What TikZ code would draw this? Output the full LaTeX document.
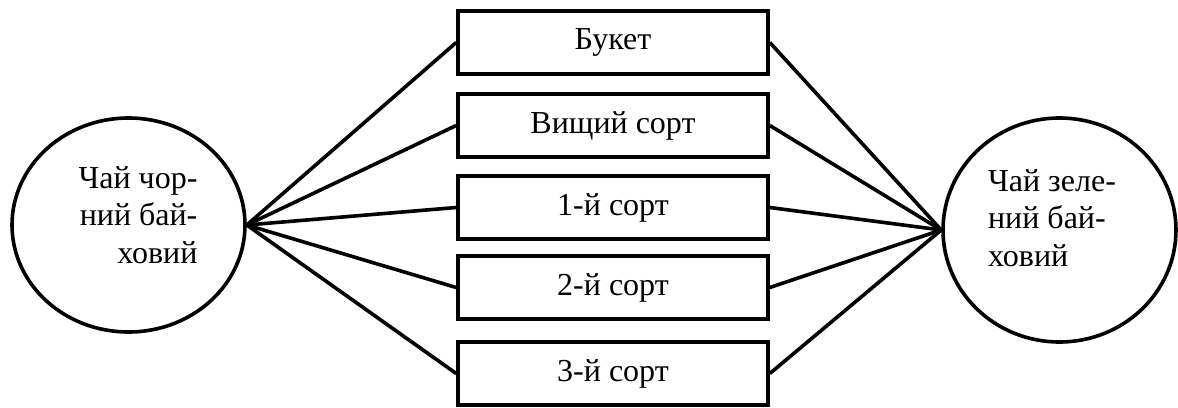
\documentclass[tikz,border=0pt]{standalone}
\usepackage{fontspec}
\setmainfont{Liberation Serif}
\usetikzlibrary{shapes.geometric}
\tikzset{
  lw/.style={line width=3.6pt},
  oval/.style={ellipse, draw, lw, inner sep=0pt},
  sortbox/.style={rectangle, draw, lw, minimum width=310pt, minimum height=63pt, inner sep=0pt,
    font=\fontsize{32}{37.5}\selectfont},
  ovaltext/.style={inner sep=0pt, font=\fontsize{32}{37.5}\selectfont},
  link/.style={lw}
}
\begin{document}
\begin{tikzpicture}[x=1pt,y=-1pt]
\useasboundingbox (0,0) rectangle (1178,407);
\node[oval, minimum width=233pt, minimum height=214pt] (L) at (128.5,225) {};
\node[oval, minimum width=233pt, minimum height=224pt] (R) at (1059.5,230) {};
\node[ovaltext, align=right] (Lt) at (138,215) {Чай чор-\\ний бай-\\ховий};
\node[ovaltext, align=left] (Rt) at (1052,218) {Чай зеле-\\ний бай-\\ховий};
\node[sortbox] (b1) at (613,42.5) {Букет};
\node[sortbox] (b2) at (613,125.5) {Вищий сорт};
\node[sortbox] (b3) at (613,207.5) {1-й сорт};
\node[sortbox] (b4) at (613,287.5) {2-й сорт};
\node[sortbox] (b5) at (613,373.5) {3-й сорт};
\foreach \b in {b1,b2,b3,b4,b5}{
  \draw[link] (L.east) -- (\b.west);
  \draw[link] (\b.east) -- (R.west);
}
\end{tikzpicture}
\end{document}
